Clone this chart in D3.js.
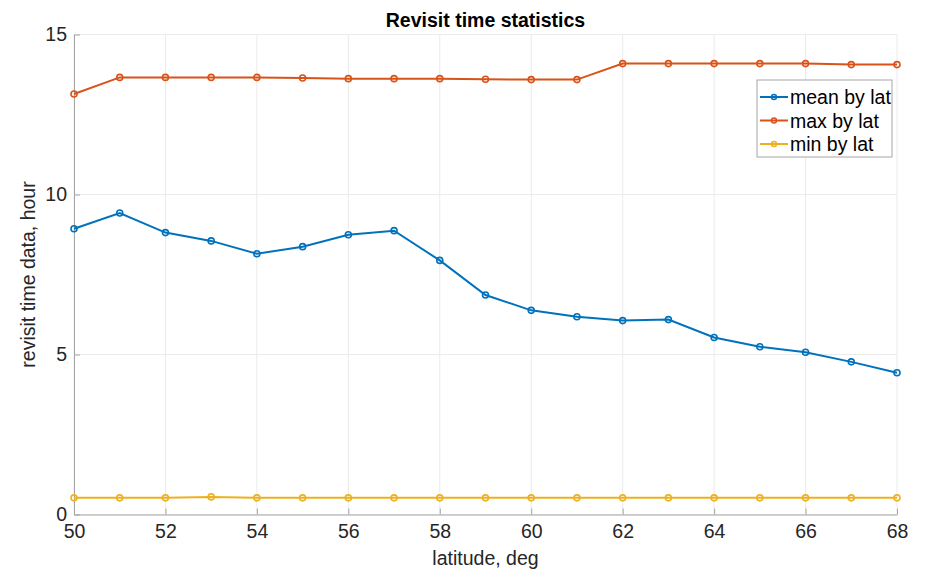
<!DOCTYPE html>
<html>
<head>
<meta charset="utf-8">
<script src="https://cdn.jsdelivr.net/npm/d3@7"></script>
<style>
  html, body { margin: 0; padding: 0; background: #fff; }
  svg { display: block; font-family: "Liberation Sans", Arial, Helvetica, sans-serif; }
</style>
</head>
<body>
<svg id="chart" width="929" height="570"></svg>
<script>
// Latitude samples (deg)
const latitudes = [50, 51, 52, 53, 54, 55, 56, 57, 58, 59, 60, 61, 62, 63, 64, 65, 66, 67, 68];

// Revisit time per latitude (hours)
const meanByLat = [8.93, 9.42, 8.81, 8.55, 8.15, 8.37, 8.74, 8.87, 7.94, 6.86, 6.38, 6.18, 6.06, 6.09, 5.53, 5.24, 5.07, 4.77, 4.43];
const maxByLat  = [13.14, 13.66, 13.66, 13.66, 13.66, 13.64, 13.62, 13.62, 13.62, 13.60, 13.59, 13.59, 14.09, 14.09, 14.09, 14.09, 14.09, 14.06, 14.06];
const minByLat  = [0.52, 0.52, 0.52, 0.55, 0.52, 0.52, 0.52, 0.52, 0.52, 0.52, 0.52, 0.52, 0.52, 0.52, 0.52, 0.52, 0.52, 0.52, 0.52];

const xTicks = [50, 52, 54, 56, 58, 60, 62, 64, 66, 68];
const yTicks = [0, 5, 10, 15];

const seriesNames = ["mean by lat", "max by lat", "min by lat"];
const seriesColors = ["#0072BD", "#D95319", "#EDB120"];

const series = [meanByLat, maxByLat, minByLat].map((vals, i) => ({
  name: seriesNames[i],
  color: seriesColors[i],
  points: latitudes.map((lat, j) => ({ x: lat, y: vals[j] }))
}));

const svg = d3.select("#chart");
const plot = { left: 74, top: 34.5, right: 897, bottom: 514.5 };

const x = d3.scaleLinear().domain([50, 68]).range([plot.left, plot.right]);
const y = d3.scaleLinear().domain([0, 15]).range([plot.bottom, plot.top]);

const textColor = "#262626";
const axisColor = "#a6a6a6";
const gridColor = "#ebebeb";
const fontSize = 19.5;

// Grid
const grid = svg.append("g");
grid.selectAll("line.gx").data(xTicks).join("line")
  .attr("x1", d => x(d)).attr("x2", d => x(d))
  .attr("y1", plot.top).attr("y2", plot.bottom)
  .attr("stroke", gridColor).attr("stroke-width", 1);
grid.selectAll("line.gy").data(yTicks).join("line")
  .attr("x1", plot.left).attr("x2", plot.right)
  .attr("y1", d => y(d)).attr("y2", d => y(d))
  .attr("stroke", gridColor).attr("stroke-width", 1);

// X axis (ticks point inward)
const xAxis = svg.append("g")
  .attr("transform", `translate(0,${plot.bottom})`)
  .call(d3.axisBottom(x).tickValues(xTicks).tickSizeInner(-6).tickSizeOuter(0).tickPadding(10));
xAxis.select(".domain").attr("stroke", axisColor);
xAxis.selectAll(".tick line").attr("stroke", axisColor);
xAxis.selectAll(".tick text").attr("fill", textColor).attr("font-size", fontSize)
  .attr("font-family", "Liberation Sans, Arial, sans-serif");

// Y axis
const yAxis = svg.append("g")
  .attr("transform", `translate(${plot.left},0)`)
  .call(d3.axisLeft(y).tickValues(yTicks).tickSizeInner(-6).tickSizeOuter(0).tickPadding(7));
yAxis.select(".domain").attr("stroke", axisColor);
yAxis.selectAll(".tick line").attr("stroke", axisColor);
yAxis.selectAll(".tick text").attr("fill", textColor).attr("font-size", fontSize)
  .attr("font-family", "Liberation Sans, Arial, sans-serif");

// Series lines and markers
const line = d3.line().x(d => x(d.x)).y(d => y(d.y));
const seriesG = svg.append("g");
series.slice().reverse().forEach(s => {
  const g = seriesG.append("g");
  g.append("path").datum(s.points)
    .attr("d", line).attr("fill", "none")
    .attr("stroke", s.color).attr("stroke-width", 2);
  g.selectAll("circle").data(s.points).join("circle")
    .attr("cx", d => x(d.x)).attr("cy", d => y(d.y)).attr("r", 3)
    .attr("fill", "none").attr("stroke", s.color).attr("stroke-width", 1.6);
});

// Title and axis labels
svg.append("text")
  .attr("x", (plot.left + plot.right) / 2).attr("y", 27)
  .attr("text-anchor", "middle").attr("font-weight", "bold")
  .attr("font-size", fontSize).attr("fill", "#000")
  .text("Revisit time statistics");

svg.append("text")
  .attr("x", (plot.left + plot.right) / 2).attr("y", 565)
  .attr("text-anchor", "middle").attr("font-size", fontSize).attr("fill", textColor)
  .text("latitude, deg");

svg.append("text")
  .attr("transform", `translate(35,${(plot.top + plot.bottom) / 2}) rotate(-90)`)
  .attr("text-anchor", "middle").attr("font-size", fontSize).attr("fill", textColor)
  .text("revisit time data, hour");

// Legend
const legend = svg.append("g").attr("transform", "translate(757,80)");
legend.append("rect")
  .attr("x", 0).attr("y", 0).attr("width", 135).attr("height", 77)
  .attr("fill", "#fff").attr("stroke", "#a6a6a6").attr("stroke-width", 1);
series.forEach((s, i) => {
  const yy = 17 + i * 23.5;
  legend.append("line")
    .attr("x1", 3).attr("x2", 31).attr("y1", yy).attr("y2", yy)
    .attr("stroke", s.color).attr("stroke-width", 2);
  legend.append("circle")
    .attr("cx", 17).attr("cy", yy).attr("r", 2.5)
    .attr("fill", "none").attr("stroke", s.color).attr("stroke-width", 1.4);
  legend.append("text")
    .attr("x", 33).attr("y", yy + 7)
    .attr("font-size", fontSize).attr("fill", "#000")
    .text(s.name);
});
</script>
</body>
</html>
